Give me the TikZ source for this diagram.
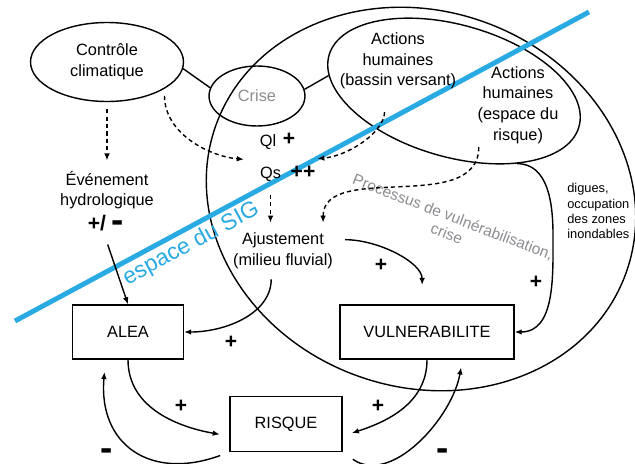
\documentclass[tikz,border=0pt]{standalone}
\usepackage{fontspec}
\setmainfont{Liberation Sans}
\usetikzlibrary{shapes.geometric, arrows.meta}
\definecolor{sigbleu}{RGB}{41,170,226}
\definecolor{gristexte}{RGB}{140,140,145}

\begin{document}
\begin{tikzpicture}[x=0.02cm, y=0.02cm, font=\fontsize{9.3}{11.8}\selectfont, line width=0.8pt,
	bulle/.style={draw, ellipse, inner sep=0pt},
	boite/.style={draw, rectangle, minimum height=1.08cm},
	texte/.style={align=center, inner sep=1.5pt},
	signe/.style={font=\fontsize{12}{14}\selectfont\bfseries},
	moins/.style={inner sep=0pt, font=\fontsize{21}{21}\selectfont\bfseries},
	petit/.style={align=left, inner sep=1.5pt, font=\fontsize{7.3}{8.6}\selectfont},
	fleche/.style={-{Latex[length=4pt, width=3.2pt]}},
	pointille/.style={fleche, dash pattern=on 2.4pt off 1.8pt, shorten <=4pt, shorten >=4pt},
	sig/.style={line width=2.8pt, draw=sigbleu}]
	\useasboundingbox (0,0) rectangle (635,-463);
	\node [bulle, minimum width=8.72cm, minimum height=7.52cm, rotate=-20] (zone) at (421,-199) {};
	\node [bulle, minimum width=5.2cm, minimum height=2.64cm, rotate=-16] (actions) at (454,-91) {};
	\coordinate (sigbas) at (15,-321);
	\coordinate (sighaut) at (589,-12);
	\draw [sig] (sigbas) -- (sighaut) node [pos=0.294, sloped, below, inner sep=1.5pt, text=sigbleu, font=\fontsize{13}{15}\selectfont] (sigtexte) {espace du SIG};
	\node [bulle, minimum width=3.06cm, minimum height=1.58cm, align=center] (climat) at (107,-62) {Contrôle\\climatique};
	\node [bulle, minimum width=1.92cm, minimum height=1.2cm, text=gristexte] (crise) at (257,-96) {Crise};
	\node [texte] (bassin) at (398,-61) {Actions\\humaines\\(bassin versant)};
	\node [texte] (risqueh) at (518,-105) {Actions\\humaines\\(espace du\\risque)};
	\node [texte] (evenement) at (107,-190) {Événement\\hydrologique};
	\node [signe] (variation) at (106,-224) {+/ \raisebox{-1.5pt}{\fontsize{21}{21}\selectfont -}};
	\node (ql) at (268,-142) {Ql};
	\node (qs) at (270.5,-174) {Qs};
	\node [signe] (plusql) at (289,-139) {+};
	\node [signe] (plusqs) at (303,-172) {++};
	\node [texte] (ajust) at (283,-251) {Ajustement\\(milieu fluvial)};
	\node [texte, rotate=-21, text=gristexte, font=\fontsize{8.8}{10}\selectfont] (processus) at (450,-225) {Processus de vulnérabilisation,\\crise};
	\node [petit, anchor=west] (digues) at (564,-211) {digues,\\occupation\\des zones\\inondables};
	\node [boite, minimum width=2.22cm] (alea) at (128,-332) {ALEA};
	\node [boite, minimum width=3.48cm] (vuln) at (427,-332) {VULNERABILITE};
	\node [boite, minimum width=2.24cm, minimum height=1.1cm] (risque) at (286,-424) {RISQUE};
	\node [signe] (plusajust) at (381,-265) {+};
	\node [signe] (plusalea) at (231,-342) {+};
	\node [signe] (plusrisqueg) at (181,-406) {+};
	\node [signe] (plusrisqued) at (378,-406) {+};
	\node [signe] (plusdigues) at (536,-282) {+};
	\node [moins] (moinsg) at (107,-455) {-};
	\node [moins] (moinsd) at (443,-455) {-};
	\coordinate (coude) at (553,-235);
	\draw (climat.-5) -- (crise.170);
	\draw (crise.8) -- (actions.189);
	\draw [pointille] (climat.south) -- (evenement.north);
	\draw [pointille, shorten >=5.5pt] (climat.-25) to[out=-90, in=175] (qs.north west);
	\draw [pointille, shorten <=11pt] (bassin.247) to[out=-90, in=5] (plusqs.60);
	\draw [pointille, shorten <=0pt] (risqueh.-133) to[out=-90, in=90] (ajust.28);
	\draw [pointille] (qs.south) -- (qs.south |- ajust.north);
	\draw [fleche, shorten <=3pt] (variation.south) -- (alea.north);
	\draw [fleche, shorten <=4pt] (ajust.-119) to[out=-90, in=0] (alea.east);
	\draw [fleche, shorten <=5pt, shorten >=11pt] (ajust.12) to[out=0, in=90] (vuln.100);
	\draw [fleche] (actions.-33) to[out=0, in=90] (coude) to[out=-90, in=0] (vuln.east);
	\draw [fleche, shorten >=5.5pt] (alea.south) to[out=-90, in=170] (risque.192);
	\draw [fleche, shorten <=5.5pt, shorten >=7pt] (risque.south west) to[out=-160, in=-95, looseness=1.4] (alea.-129);
	\draw [fleche, shorten >=5.5pt] (vuln.south) to[out=-90, in=18] (risque.-12);
	\draw [fleche, shorten <=7pt, shorten >=4.5pt] (risque.south east) to[out=-35, in=-100] (vuln.-38);
\end{tikzpicture}
\end{document}
